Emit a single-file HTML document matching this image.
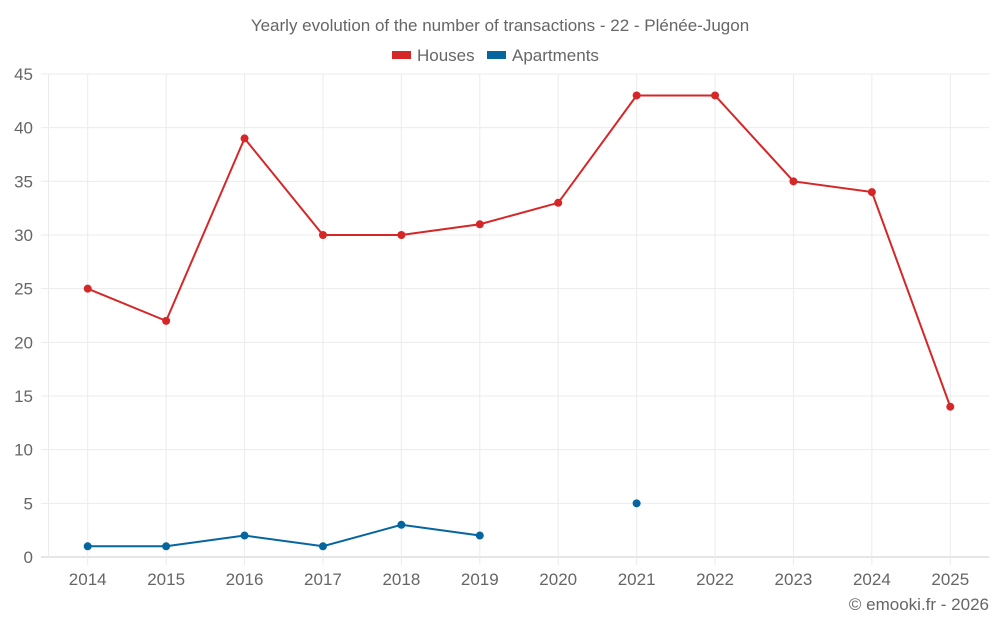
<!DOCTYPE html>
<html><head><meta charset="utf-8"><style>
body{margin:0;background:#fff;width:1000px;height:625px;overflow:hidden}
svg text{font-family:"Liberation Sans",sans-serif;fill:#666}
</style></head><body>
<svg id="chart" width="1000" height="625" xmlns="http://www.w3.org/2000/svg">
<text x="500" y="31" text-anchor="middle" font-size="17">Yearly evolution of the number of transactions - 22 - Plénée-Jugon</text>
<g><rect x="392" y="51" width="19" height="8" fill="#d62728"/><text x="417" y="61" font-size="17">Houses</text></g>
<g><rect x="487" y="51" width="19" height="8" fill="#05659f"/><text x="512" y="61" font-size="17">Apartments</text></g>
<g id="grid"></g><g id="axes"></g><g id="series"></g>
<text x="989" y="610" text-anchor="end" font-size="17">© emooki.fr - 2026</text>
</svg>
<script>
const categories=["2014","2015","2016","2017","2018","2019","2020","2021","2022","2023","2024","2025"];
const houses=[25,22,39,30,30,31,33,43,43,35,34,14];
const apartments=[1,1,2,1,3,2,null,5,null,null,null,null];
const yTicks=[0,5,10,15,20,25,30,35,40,45];
const NS="http://www.w3.org/2000/svg";
const L=48.5,R=989.5,T=74,B=557,yMax=45;
const bw=(R-L)/categories.length;
const xs=i=>L+bw*(i+0.5);
const ys=v=>B-(v/yMax)*(B-T);
function mk(tag,attrs,parent,txt){const e=document.createElementNS(NS,tag);for(const k in attrs)e.setAttribute(k,attrs[k]);if(txt!==undefined)e.textContent=txt;document.getElementById(parent).appendChild(e);return e;}
yTicks.forEach(v=>{
 let g=mk('line',{x1:41,x2:R,y1:ys(v),y2:ys(v),stroke:v===0?'#ccc':'#ebebeb','stroke-width':1},'grid');
 
 
 let t=mk('text',{x:33,y:ys(v)+6,'text-anchor':'end','font-size':17},'axes',String(v));
 
 
});
let lv=mk('line',{x1:L,x2:L,y1:T,y2:B,stroke:'#ebebeb'},'grid');


categories.forEach((c,i)=>{
 let g=mk('line',{x1:xs(i),x2:xs(i),y1:T,y2:B+8,stroke:'#ebebeb'},'grid');
 
 
 let t=mk('text',{x:xs(i),y:585,'text-anchor':'middle','font-size':17},'axes',c);
 
 
});
function draw(data,color,name){
 let d='',pen=false;
 data.forEach((v,i)=>{if(v===null){pen=false;return;}d+=(pen?'L':'M')+xs(i)+' '+ys(v)+' ';pen=true;});
 let p=mk('path',{d:d,fill:'none',stroke:color,'stroke-width':2},'series');
 
 
 data.forEach((v,i)=>{if(v===null)return;
  let c=mk('circle',{cx:xs(i),cy:ys(v),r:4,fill:color},'series');
  
  
 });
}
draw(houses,'#d62728','houses');
draw(apartments,'#05659f','apartments');
</script>
</body></html>
